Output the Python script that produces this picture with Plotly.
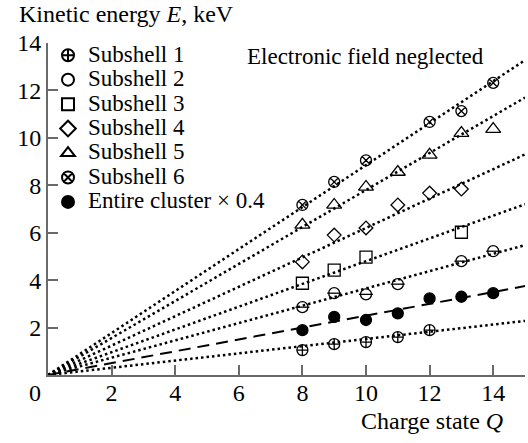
import plotly.graph_objects as go

# ---------------- data ----------------
q_s1 = [8, 9, 10, 11, 12]
e_s1 = [1.05, 1.30, 1.39, 1.60, 1.89]

q_s2 = [8, 9, 10, 11, 13, 14]
e_s2 = [2.86, 3.45, 3.40, 3.83, 4.80, 5.22]

q_s3 = [8, 9, 10, 13]
e_s3 = [3.87, 4.42, 4.97, 6.02]

q_s4 = [8, 9, 10, 11, 12, 13]
e_s4 = [4.77, 5.90, 6.20, 7.17, 7.67, 7.84]

q_s5 = [8, 9, 10, 11, 12, 13, 14]
e_s5 = [6.33, 7.17, 7.93, 8.56, 9.28, 10.20, 10.37]

q_s6 = [8, 9, 10, 12, 13, 14]
e_s6 = [7.17, 8.14, 9.05, 10.67, 11.13, 12.32]

q_all = [8, 9, 10, 11, 12, 13, 14]
e_all = [1.89, 2.45, 2.32, 2.60, 3.23, 3.30, 3.45]

# slopes of the fitted straight lines through the origin (E = k * Q)
fit_slopes = {"s1": 0.152, "s2": 0.365, "s3": 0.48, "s4": 0.62,
              "s5": 0.78, "s6": 0.885, "all": 0.25}
fit_q = [0, 15]

x_ticks = [2, 4, 6, 8, 10, 12, 14]
y_ticks = [2, 4, 6, 8, 10, 12, 14]

names = ["Subshell 1", "Subshell 2", "Subshell 3", "Subshell 4",
         "Subshell 5", "Subshell 6", "Entire cluster \u00d7 0.4"]

# ---------------- figure ----------------
FONT = "Liberation Serif, Times New Roman, serif"
fig = go.Figure()

dot = "2.5px,3px"
for key in ["s1", "s2", "s3", "s4", "s5", "s6", "all"]:
    k = fit_slopes[key]
    fig.add_trace(go.Scatter(
        x=fit_q, y=[k * q for q in fit_q], mode="lines",
        line=dict(color="black", width=2.5 if key != "all" else 2,
                  dash=dot if key != "all" else "12px,7px"),
        showlegend=False, hoverinfo="skip"))

series = [
    (q_s1, e_s1, "circle-cross-open"),
    (q_s2, e_s2, "circle-open"),
    (q_s3, e_s3, "square-open"),
    (q_s4, e_s4, "diamond-open"),
    (q_s5, e_s5, "triangle-up-open"),
    (q_s6, e_s6, "circle-x-open"),
    (q_all, e_all, "circle"),
]
sizes = [11, 11, 12, 10.5, 13, 11, 11]
for (qs, es, sym), name, sz in zip(series, names, sizes):
    fig.add_trace(go.Scatter(
        x=qs, y=es, mode="markers",
        name='<span style="font-size:23px">' + name + '</span>',
        marker=dict(symbol=sym, size=sz, color="black",
                    line=dict(color="black", width=1.3)),
        cliponaxis=False))
    if sym == "circle-open":  # horizontal bar inside the circle -> ⊖
        fig.add_trace(go.Scatter(
            x=qs, y=es, mode="markers", showlegend=False,
            marker=dict(symbol="line-ew-open", size=sz - 1, color="black",
                        line=dict(color="black", width=1.3)),
            hoverinfo="skip"))

axis_common = dict(
    showgrid=False, zeroline=False, showline=True,
    linecolor="#6a6a6a", linewidth=2,
    ticks="inside", ticklen=10, tickwidth=1.5, tickcolor="#6a6a6a",
    tickfont=dict(family=FONT, size=24, color="black"),
)

fig.update_layout(
    width=528, height=443,
    margin=dict(l=48, r=3, t=43, b=68, autoexpand=False),
    paper_bgcolor="white", plot_bgcolor="white",
    font=dict(family=FONT, color="black"),
    xaxis=dict(range=[0, 15], tickvals=x_ticks, ticklabelstandoff=-5, **axis_common),
    yaxis=dict(range=[0, 14], tickvals=y_ticks, **axis_common),
    legend=dict(
        x=0.0, y=1 + 5 / 332, xanchor="left", yanchor="top",
        bgcolor="rgba(0,0,0,0)", borderwidth=0,
        font=dict(family=FONT, size=16.5, color="black"),
        itemsizing="constant", tracegroupgap=0,
    ),
    showlegend=True,
)

ann = dict(showarrow=False, font=dict(family=FONT, size=24, color="black"))
fig.add_annotation(text="Kinetic energy <i>E</i>, keV", xref="paper", yref="paper",
                   x=(17 - 48) / 477, y=1 + (43 - 14) / 332,
                   xanchor="left", yanchor="middle", **ann)
fig.add_annotation(text="Charge state <i>Q</i>", xref="paper", yref="paper",
                   x=(505 - 48) / 477, y=-(421 - 375) / 332,
                   xanchor="right", yanchor="middle", **ann)
fig.add_annotation(text="0", xref="paper", yref="paper",
                   x=-13 / 477, y=-(393 - 375) / 332,
                   xanchor="center", yanchor="middle", **ann)
fig.add_annotation(text="Electronic field neglected", xref="paper", yref="paper",
                   x=(365 - 48) / 477, y=1 - (56 - 43) / 332,
                   xanchor="center", yanchor="middle",
                   showarrow=False, font=dict(family=FONT, size=23, color="black"))

fig.write_html("out.html")
